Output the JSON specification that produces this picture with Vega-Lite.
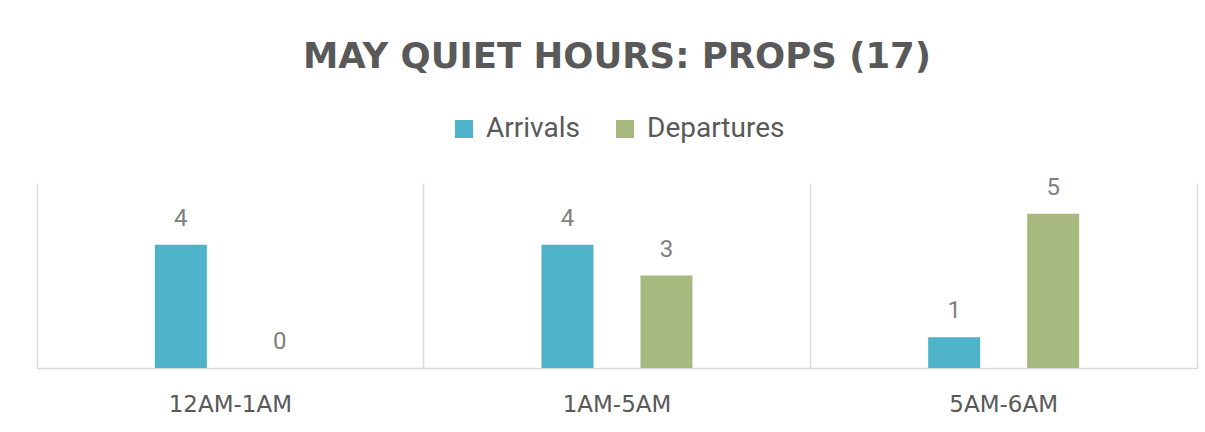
{
  "$schema": "https://vega.github.io/schema/vega-lite/v6.json",
  "width": 1160,
  "height": 185,
  "autosize": {"type": "none"},
  "padding": {"left": 37, "top": 183, "right": 8, "bottom": 64},
  "background": "white",
  "title": {
    "text": "MAY QUIET HOURS: PROPS (17)",
    "fontSize": 35.5,
    "font": "DejaVu Sans",
    "fontWeight": "bold",
    "color": "#595959",
    "anchor": "middle",
    "offset": 40
  },
  "data": {
    "values": [
      {"period": "12AM-1AM", "type": "Arrivals", "count": 4},
      {"period": "12AM-1AM", "type": "Departures", "count": 0},
      {"period": "1AM-5AM", "type": "Arrivals", "count": 4},
      {"period": "1AM-5AM", "type": "Departures", "count": 3},
      {"period": "5AM-6AM", "type": "Arrivals", "count": 1},
      {"period": "5AM-6AM", "type": "Departures", "count": 5}
    ]
  },
  "encoding": {
    "x": {
      "field": "period",
      "type": "nominal",
      "sort": null,
      "scale": {"paddingInner": 0, "paddingOuter": 0},
      "axis": {
        "title": null,
        "labelAngle": 0,
        "labelFontSize": 23,
        "labelFont": "DejaVu Sans",
        "labelColor": "#595959",
        "labelPadding": 25,
        "ticks": false,
        "domainColor": "#d9d9d9",
        "domainWidth": 1.5,
        "grid": true,
        "gridColor": "#d9d9d9",
        "gridWidth": 1.5,
        "bandPosition": 0
      }
    },
    "xOffset": {
      "field": "type",
      "type": "nominal",
      "scale": {"paddingInner": 0.094, "paddingOuter": 1}
    },
    "y": {
      "field": "count",
      "type": "quantitative",
      "scale": {"domain": [0, 6], "nice": false},
      "axis": {
        "orient": "right",
        "title": null,
        "labels": false,
        "ticks": false,
        "grid": false,
        "domain": true,
        "domainColor": "#d9d9d9",
        "domainWidth": 1.5
      }
    }
  },
  "layer": [
    {
      "mark": {"type": "bar", "width": 52},
      "encoding": {
        "color": {
          "field": "type",
          "type": "nominal",
          "scale": {"domain": ["Arrivals", "Departures"], "range": ["#4eb3c8", "#a7b97f"]},
          "legend": {
            "title": null,
            "orient": "top",
            "direction": "horizontal",
            "symbolType": "square",
            "symbolSize": 324,
            "symbolStrokeWidth": 0,
            "labelFontSize": 28,
            "labelFont": "Roboto",
            "labelColor": "#595959",
            "columnPadding": 31,
            "labelOffset": 8,
            "offset": 40
          }
        }
      }
    },
    {
      "mark": {"type": "text", "baseline": "bottom", "dy": -14, "fontSize": 24, "font": "Roboto", "color": "#7f7f7f"},
      "encoding": {"text": {"field": "count", "type": "quantitative"}}
    }
  ],
  "config": {
    "view": {"stroke": null},
    "legend": {"layout": {"top": {"anchor": "middle"}}}
  }
}
